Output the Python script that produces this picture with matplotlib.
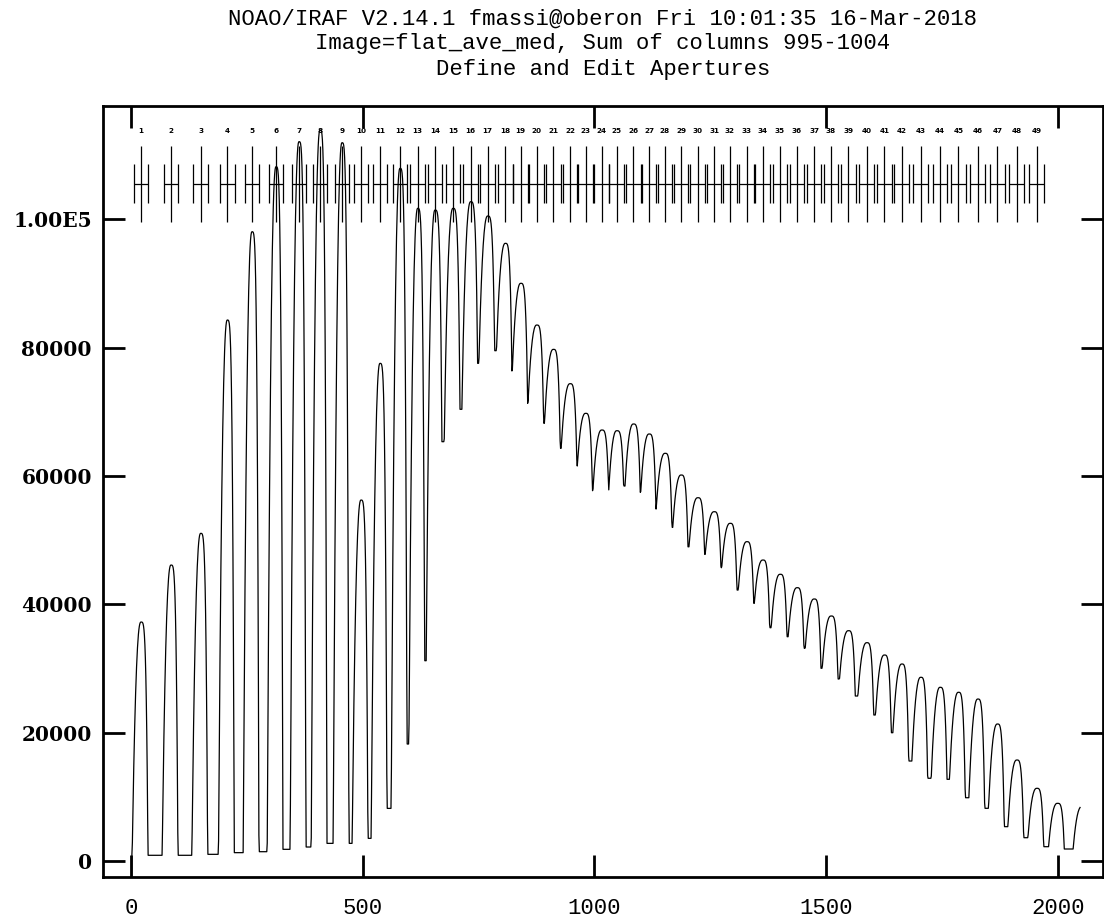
import matplotlib
matplotlib.use("Agg")
import matplotlib.pyplot as plt
import numpy as np

# apall aperture definitions: id, centre (pixels) and limits relative to the centre
aperture_ids = list(range(1, 50))
aperture_centers = [21.6, 86.3, 150.4, 207.8, 261.1, 312.9, 362.5, 407.9, 455.3, 496.3,
                    537.3, 580.5, 618.7, 656.0, 694.9, 733.0, 769.7, 807.7, 841.0, 875.5,
                    911.3, 947.3, 980.8, 1015.7, 1048.1, 1084.0, 1117.8, 1152.3, 1186.9, 1222.9,
                    1258.1, 1292.6, 1328.7, 1363.2, 1400.5, 1437.2, 1473.9, 1510.6, 1547.9, 1587.6,
                    1625.6, 1663.2, 1704.1, 1745.8, 1785.3, 1827.2, 1869.4, 1911.3, 1954.5]
aperture_lower = -16.0
aperture_upper = 16.0

# fibres beyond the last defined aperture
extra_centers = [1999.0, 2052.0]

# peak counts of each fibre (49 apertures + 2 extra)
peak_counts = [37240, 46120, 51060, 84300, 98060, 108190, 112090, 113910, 111930, 56250,
               77550, 107940, 101710, 101440, 101710, 102740, 100510, 96250, 90020, 83520,
               79730, 74380, 69760, 67160, 67050, 68100, 66540, 63530, 60150, 56610,
               54430, 52620, 49760, 46900, 44680, 42590, 40830, 38180, 35890, 34020,
               32100, 30700, 28630, 27070, 26290, 25240, 21350, 15740, 11330, 8990,
               8500]

# inter-fibre minima: position (pixels) and counts, first one is the left edge
valley_pos = [2.0, 54.6, 118.0, 177.6, 233.7, 284.9, 336.6, 384.1, 431.0, 474.1,
              516.4, 558.3, 598.4, 636.6, 673.9, 711.5, 748.2, 785.5, 822.2, 856.7,
              891.2, 927.9, 963.1, 996.3, 1030.9, 1066.0, 1099.9, 1132.9, 1169.0, 1204.1,
              1238.7, 1274.7, 1310.5, 1345.1, 1380.4, 1416.3, 1452.3, 1490.5, 1528.5, 1567.3,
              1603.4, 1642.9, 1682.6, 1721.4, 1762.4, 1803.4, 1845.1, 1888.2, 1930.7, 1974.5,
              2019.2]
valley_counts = [1090, 890, 890, 1040, 1300, 1450, 1820, 2180, 2750, 2750,
                 3530, 8200, 18230, 31210, 65340, 70390, 77550, 79520, 75220, 71320,
                 68200, 64300, 61550, 57700, 57700, 58430, 57450, 54840, 51990, 48960,
                 47780, 45700, 42220, 40150, 36350, 34950, 33140, 30030, 28360, 25710,
                 22750, 19990, 15580, 12890, 12730, 9860, 8210, 5350, 3630, 2230,
                 1870]
first_pixel_counts = -5000
n_pixels = 2048

title_lines = ["NOAO/IRAF V2.14.1 fmassi@oberon Fri 10:01:35 16-Mar-2018",
               "Image=flat_ave_med, Sum of columns 995-1004",
               "Define and Edit Apertures"]

x_ticks = [0, 500, 1000, 1500, 2000]
y_ticks = [0, 20000, 40000, 60000, 80000, 100000]
y_ticklabels = ["0", "20000", "40000", "60000", "80000", "1.00E5"]

# fibre profile: rounded top, slower rise than fall, flat floor between fibres
rise_width, fall_width = 19.0, 15.0
rise_power, fall_power = 2.4, 4.0

pix = np.arange(1, n_pixels + 1, dtype=float)
counts = np.zeros_like(pix)
centers = aperture_centers + extra_centers
vpos = valley_pos + [n_pixels + 60.0]
vcnt = valley_counts + [valley_counts[-1]]
for i, (c, h) in enumerate(zip(centers, peak_counts)):
    xl, yl = vpos[i], vcnt[i]
    xr, yr = vpos[i + 1], vcnt[i + 1]
    m = (pix >= xl) & (pix < c)
    s = (c - pix[m]) / (c - xl)
    s0 = min(1.0, rise_width / (c - xl))
    counts[m] = yl + (h - yl) * np.clip(1 - (s / s0) ** rise_power, 0, 1)
    m = (pix >= c) & (pix < xr)
    s = (pix[m] - c) / (xr - c)
    s0 = min(1.0, fall_width / (xr - c))
    counts[m] = yr + (h - yr) * np.clip(1 - (s / s0) ** fall_power, 0, 1)
counts[pix < valley_pos[0]] = first_pixel_counts

fig = plt.figure(figsize=(11.04, 9.19), dpi=100)
ax = fig.add_axes([103 / 1104, 42.3 / 919, 1000 / 1104, 770.7 / 919])

ax.plot(pix, counts, color="black", lw=0.9)

# aperture marks
ap_c = np.array(aperture_centers)
ax.vlines(ap_c, 99620, 111410, color="black", lw=0.9)
ax.vlines(ap_c + aperture_lower, 102530, 108600, color="black", lw=0.9)
ax.vlines(ap_c + aperture_upper, 102530, 108600, color="black", lw=0.9)
ax.hlines(np.full(len(ap_c), 105420), ap_c + aperture_lower, ap_c + aperture_upper,
          color="black", lw=0.9)
for c, n in zip(aperture_centers, aperture_ids):
    ax.text(c, 113750, str(n), ha="center", va="center", fontsize=5.2,
            fontweight="bold", family="DejaVu Sans")

ax.set_xlim(-60.4, 2097.5)
ax.set_ylim(-2446, 117650)
ax.set_xticks(x_ticks)
ax.set_xticklabels([str(v) for v in x_ticks], family="Liberation Mono", fontsize=16)
ax.set_yticks(y_ticks)
ax.set_yticklabels(y_ticklabels, family="DejaVu Serif", fontweight="bold", fontsize=14.5)
ax.tick_params(axis="both", which="major", direction="in", length=16, width=2.0,
               top=True, right=True, color="black")
ax.tick_params(axis="x", pad=15)
ax.tick_params(axis="y", pad=8)
for sp in ax.spines.values():
    sp.set_linewidth(2.0)

title_x = (103 + 1103) / 2 / 1104
for k, line in enumerate(title_lines):
    fig.text(title_x, 1 - (19 + 25 * k) / 919, line, ha="center", va="center",
             family="Liberation Mono", fontsize=16)

fig.savefig("out.png", dpi=100)
